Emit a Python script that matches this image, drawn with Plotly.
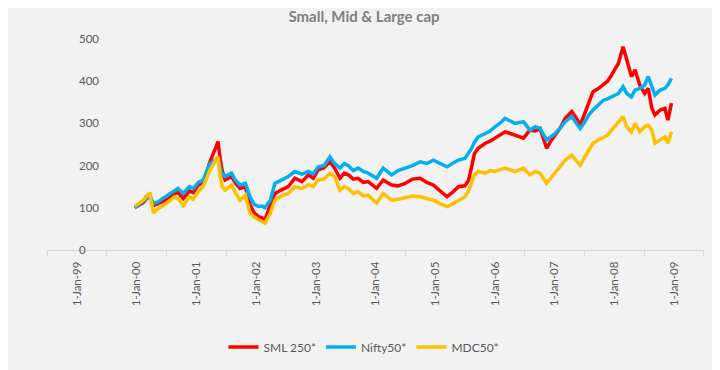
import plotly.graph_objects as go

dates = [
    "1999-12-20", "2000-02-10", "2000-03-20", "2000-04-12", "2000-05-10", "2000-06-15",
    "2000-08-20", "2000-09-10", "2000-10-12", "2000-11-18", "2000-12-12", "2001-01-12",
    "2001-02-10", "2001-03-25", "2001-05-01", "2001-05-12", "2001-05-26", "2001-06-06",
    "2001-06-25", "2001-08-03", "2001-08-28", "2001-09-24", "2001-10-27", "2001-11-24",
    "2001-12-20", "2002-01-15", "2002-02-06", "2002-02-24", "2002-03-28", "2002-04-26",
    "2002-06-02", "2002-07-16", "2002-08-25", "2002-10-08", "2002-11-17", "2002-12-16",
    "2003-01-15", "2003-02-20", "2003-03-28", "2003-04-26", "2003-05-29", "2003-06-24",
    "2003-07-19", "2003-08-18", "2003-09-16", "2003-10-19", "2003-11-17", "2004-01-08",
    "2004-02-17", "2004-03-14", "2004-04-08", "2004-05-18", "2004-07-01", "2004-08-14",
    "2004-10-01", "2004-11-10", "2004-12-20", "2005-01-30", "2005-03-14", "2005-04-20",
    "2005-05-22", "2005-07-01", "2005-07-23", "2005-08-10", "2005-08-28", "2005-09-20",
    "2005-11-03", "2005-12-02", "2006-01-01", "2006-01-30", "2006-03-03", "2006-04-05",
    "2006-05-04", "2006-06-24", "2006-08-03", "2006-09-05", "2006-10-04", "2006-11-13",
    "2006-12-08", "2007-01-04", "2007-02-06", "2007-03-07", "2007-04-16", "2007-05-15",
    "2007-06-06", "2007-07-05", "2007-07-30", "2007-08-24", "2007-09-23", "2007-10-26",
    "2007-11-21", "2007-12-16", "2008-01-26", "2008-02-24", "2008-03-17", "2008-04-15",
    "2008-05-07", "2008-06-05", "2008-07-05", "2008-07-27", "2008-08-18", "2008-09-06",
    "2008-10-08", "2008-11-06", "2008-11-24", "2008-12-16",
]

sml250 = [
    100, 112, 130, 105, 110, 116,
    134, 136, 122, 140, 136, 154,
    160, 210, 245, 257, 215, 190,
    166, 174, 158, 146, 150, 107,
    88, 79, 76, 71, 107, 134,
    142, 150, 170, 162, 178, 170,
    190, 195, 209, 194, 170, 182,
    178, 168, 170, 160, 162, 146,
    166, 160, 154, 152, 158, 168,
    170, 160, 154, 140, 126, 138,
    150, 152, 165, 195, 228, 241,
    253, 258, 265, 272, 280, 276,
    272, 265, 284, 282, 288, 241,
    258, 272, 290, 312, 328, 312,
    296, 324, 352, 375, 382, 391,
    400, 415, 442, 482, 454, 411,
    427, 391, 371, 383, 336, 320,
    332, 336, 308, 348,
]

nifty50 = [
    100, 115, 128, 110, 114, 124,
    142, 146, 134, 150, 146, 160,
    166, 205, 215, 217, 195, 182,
    174, 182, 165, 154, 158, 126,
    108, 103, 104, 100, 118, 158,
    165, 174, 186, 180, 186, 180,
    197, 200, 221, 205, 194, 205,
    200, 188, 194, 186, 182, 170,
    194, 185, 178, 188, 194, 200,
    209, 205, 213, 206, 197, 206,
    213, 217, 228, 240, 255, 268,
    276, 282, 292, 300, 312, 305,
    300, 304, 284, 292, 288, 261,
    268, 276, 290, 304, 316, 300,
    288, 304, 320, 332, 342, 355,
    358, 363, 371, 387, 371, 363,
    379, 383, 391, 411, 387, 367,
    379, 383, 391, 407,
]

mdc50 = [
    104, 118, 136, 88, 98, 106,
    126, 122, 105, 126, 120, 138,
    150, 190, 215, 221, 175, 150,
    142, 154, 135, 118, 130, 87,
    78, 73, 68, 63, 87, 118,
    128, 134, 150, 146, 155, 150,
    166, 168, 182, 174, 142, 150,
    146, 134, 138, 128, 130, 111,
    134, 126, 118, 120, 124, 128,
    126, 122, 118, 110, 103, 110,
    118, 126, 140, 160, 178, 186,
    182, 188, 186, 190, 194, 190,
    186, 194, 178, 186, 182, 158,
    170, 182, 196, 213, 225, 213,
    201, 221, 238, 253, 260, 268,
    272, 284, 304, 316, 292, 280,
    300, 280, 292, 296, 284, 253,
    261, 268, 253, 280,
]

series_names = ["SML 250*", "Nifty50*", "MDC50*"]
series_colors = ["#ff0000", "#00b0f0", "#ffc000"]

year_ticks = [f"{y}-01-01" for y in range(1999, 2010)]
year_labels = [f"1-Jan-{y % 100:02d}" for y in range(1999, 2010)]
mid_ticks = [f"{y}-07-02" for y in range(1998, 2010)]
y_ticks = [0, 100, 200, 300, 400, 500]
y_labels = ["0\u2007\u2007", "100", "200", "300", "400", "500"]

FONT = "Lato"
GREY = "#595959"

fig = go.Figure()
for name, vals, col in zip(series_names, [sml250, nifty50, mdc50], series_colors):
    fig.add_trace(go.Scatter(x=dates, y=vals, name=name, mode="lines",
                             line=dict(color=col, width=3.5)))

fig.update_layout(
    width=712, height=362,
    paper_bgcolor="#f2f2f2", plot_bgcolor="#f2f2f2",
    margin=dict(l=39, r=16, t=31, b=120),
    font=dict(family=FONT, color=GREY, size=11),
    title=dict(text="<b>Small, Mid & Large cap</b>", x=0.5, xref="container",
               xanchor="center", y=0.975, yref="container", yanchor="middle",
               font=dict(family=FONT, size=15, color="#7f7f7f")),
    xaxis=dict(type="date", range=["1998-07-01", "2009-07-03"],
               tickmode="array", tickvals=year_ticks, ticktext=year_labels,
               tickangle=-90, ticks="", showgrid=False, zeroline=False,
               showline=True, linecolor="#d9d9d9", linewidth=1,
               tickfont=dict(size=11.5, color=GREY),
               ticklabelstandoff=6,
               minor=dict(tickmode="array", tickvals=mid_ticks, ticks="outside",
                          ticklen=5, tickcolor="#d9d9d9", tickwidth=1, showgrid=False)),
    yaxis=dict(range=[0, 500], tickmode="array", tickvals=y_ticks, ticktext=y_labels,
               showgrid=False, zeroline=False, showline=False, ticks="",
               ticklabelstandoff=-53,
               tickfont=dict(size=11.5, color=GREY)),
    legend=dict(orientation="h", x=0.5, xanchor="center", xref="container",
                y=0.0635, yanchor="middle", yref="container",
                font=dict(size=12, color=GREY), itemwidth=30,
                bgcolor="rgba(0,0,0,0)"),
    showlegend=True,
)

fig.write_html("out.html")
